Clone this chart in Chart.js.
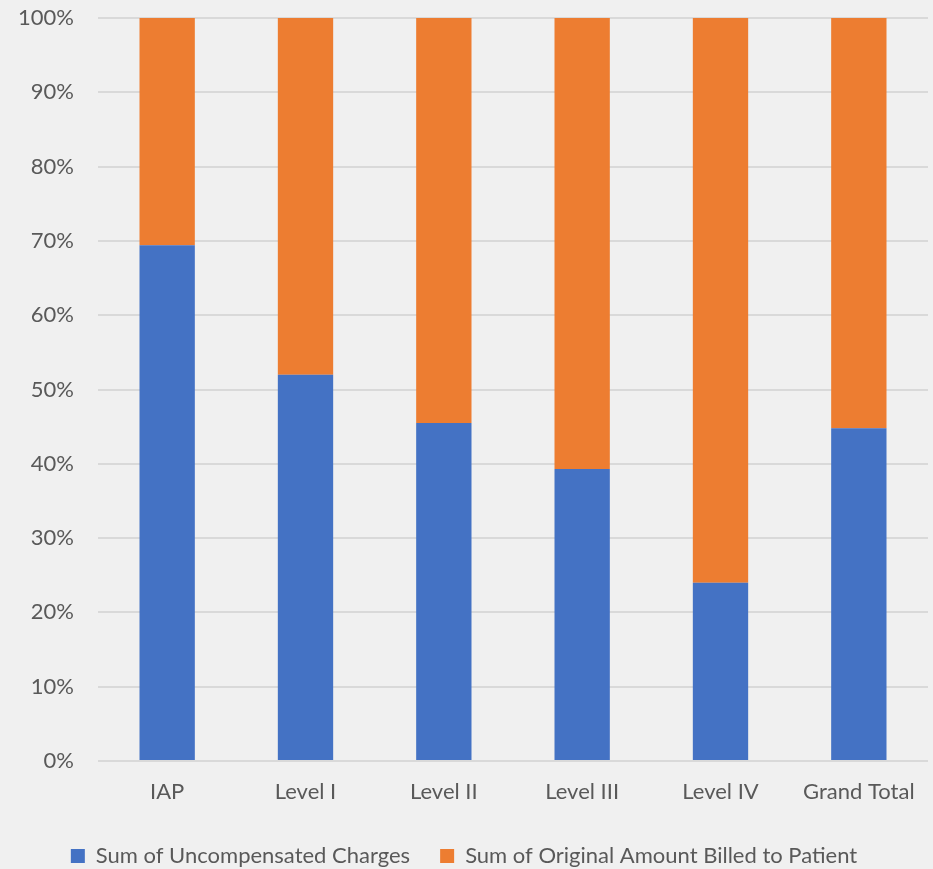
<!DOCTYPE html>
<html>
<head>
<meta charset="utf-8">
<script src="https://cdn.jsdelivr.net/npm/chart.js@4/dist/chart.umd.min.js"></script>
<style>
  html, body { margin: 0; padding: 0; background: #f0f0f0; }
  #wrap { width: 933px; height: 869px; position: relative; }
</style>
</head>
<body>
<div id="wrap"><canvas id="c"></canvas></div>
<script>
// categories and percentage shares
const categories = ['IAP', 'Level I', 'Level II', 'Level III', 'Level IV', 'Grand Total'];
const uncompensated = [69.4, 52.0, 45.5, 39.3, 24.0, 44.8];
const billed = [30.6, 48.0, 54.5, 60.7, 76.0, 55.2];
const yTicks = [0, 10, 20, 30, 40, 50, 60, 70, 80, 90, 100];

const textColor = '#595959';
const fontFamily = 'Lato, "Open Sans", sans-serif';

new Chart(document.getElementById('c'), {
  type: 'bar',
  data: {
    labels: categories,
    datasets: [
      {
        label: 'Sum of Uncompensated Charges',
        data: uncompensated,
        backgroundColor: '#4472c4',
        categoryPercentage: 0.4,
        barPercentage: 1
      },
      {
        label: 'Sum of Original Amount Billed to Patient',
        data: billed,
        backgroundColor: '#ed7d31',
        categoryPercentage: 0.4,
        barPercentage: 1
      }
    ]
  },
  options: {
    responsive: true,
    maintainAspectRatio: false,
    animation: false,
    layout: { padding: { left: 0, right: 5, top: 18, bottom: -8 } },
    plugins: {
      tooltip: { enabled: false },
      legend: {
        position: 'bottom',
        labels: {
          color: textColor,
          font: { family: fontFamily, size: 22 },
          boxWidth: 14,
          boxHeight: 14,
          padding: 30
        }
      }
    },
    scales: {
      x: {
        stacked: true,
        grid: { display: false },
        border: { display: false },
        ticks: { color: textColor, font: { family: fontFamily, size: 22 }, padding: 10 },
        afterFit: (scale) => { scale.height = 54; }
      },
      y: {
        stacked: true,
        min: 0,
        max: 100,
        afterBuildTicks: (scale) => { scale.ticks = yTicks.map(v => ({ value: v })); },
        grid: { color: '#d9d9d9', lineWidth: 2, drawTicks: false },
        border: { display: false },
        ticks: {
          color: textColor,
          font: { family: fontFamily, size: 22 },
          padding: 24,
          callback: (v) => v + '%'
        },
        afterFit: (scale) => {
          scale.width = 98;
          // tick padding would otherwise push the plot down
          scale.paddingTop = 0;
          scale.paddingBottom = 0;
        }
      }
    }
  }
});
</script>
</body>
</html>
